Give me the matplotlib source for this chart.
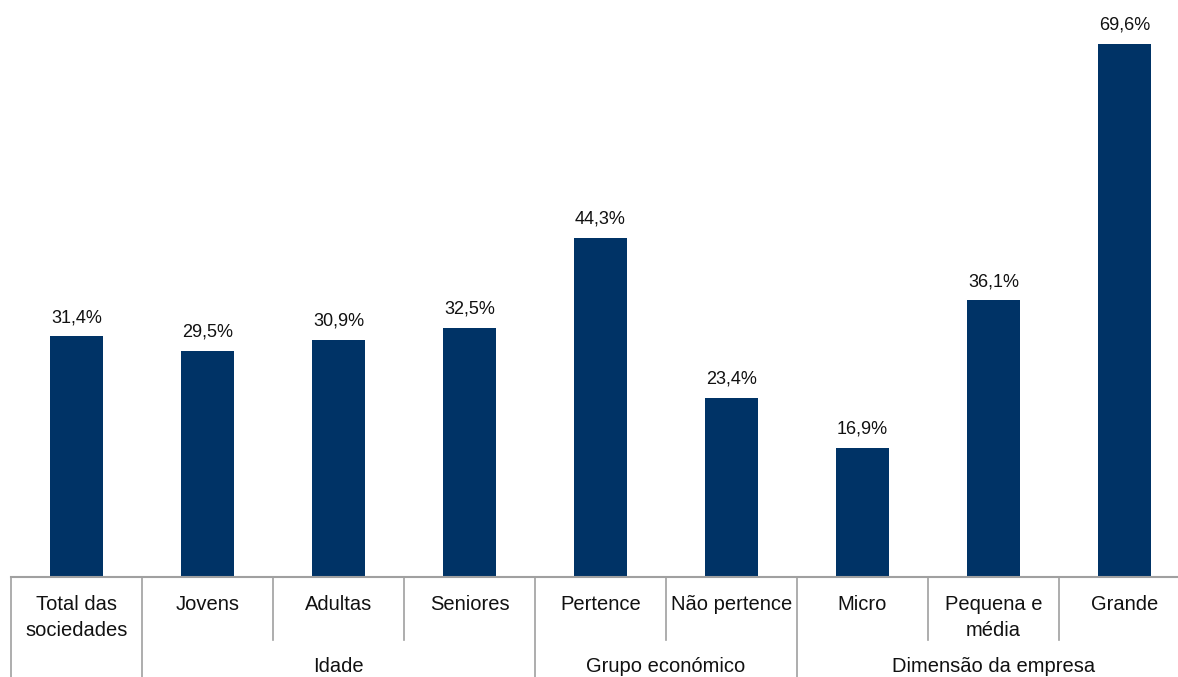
import matplotlib.pyplot as plt

plt.rcParams['font.family'] = ['Liberation Sans', 'DejaVu Sans']

# dados
categorias = ['Total das\nsociedades', 'Jovens', 'Adultas', 'Seniores',
              'Pertence', 'Não pertence', 'Micro', 'Pequena e\nmédia', 'Grande']
valores = [31.4, 29.5, 30.9, 32.5, 44.3, 23.4, 16.9, 36.1, 69.6]
grupos = ['Idade', 'Grupo económico', 'Dimensão da empresa']
grupo_inicio = [1, 4, 6]
grupo_fim = [3, 5, 8]

W, H = 1178, 677
fig = plt.figure(figsize=(W / 100, H / 100), dpi=100)

# eixo: base em y=577 px, 9 categorias de ~131 px a partir de x=11
base_px = 577
px_por_pct = 7.66
ymax = 75
ax_h_px = ymax * px_por_pct
ax = fig.add_axes([11 / W, (H - base_px) / H, 9 * 131 / W, ax_h_px / H])
ax.set_xlim(-0.5, 8.5)
ax.set_ylim(0, ymax)

x = range(len(categorias))
ax.bar(x, valores, width=0.41, color='#003366', zorder=2)

for xi, v in zip(x, valores):
    ax.annotate(f'{v:.1f}%'.replace('.', ','), (xi, v), xytext=(0, 7.5),
                textcoords='offset points', ha='center', va='bottom',
                fontsize=13, color='#111111')

for s in ax.spines.values():
    s.set_visible(False)
ax.set_xticks([])
ax.set_yticks([])


def ypx(p):
    # posição em pixels (a partir do topo) -> fração do eixo
    return (base_px - p) / ax_h_px


tr = ax.get_xaxis_transform()
cinza = '#a0a0a0'
ax.plot([-0.5, 8.6], [0, 0], color=cinza, lw=1.5, transform=tr, clip_on=False)

# separadores
fronteiras_longas = [-0.5, 0.5, 3.5, 5.5]
fronteiras_curtas = [1.5, 2.5, 4.5, 6.5, 7.5]
for b in fronteiras_longas:
    ax.plot([b, b], [0, ypx(H + 5)], color=cinza, lw=1.2, transform=tr, clip_on=False)
for b in fronteiras_curtas:
    ax.plot([b, b], [0, ypx(640)], color=cinza, lw=1.2, transform=tr, clip_on=False)

for xi, c in zip(x, categorias):
    ax.text(xi, ypx(595), c, transform=tr, ha='center', va='top',
            fontsize=14.5, linespacing=1.45, color='#111111')

for g, a, b in zip(grupos, grupo_inicio, grupo_fim):
    ax.text((a + b) / 2, ypx(667), g, transform=tr, ha='center', va='center',
            fontsize=14.5, color='#111111')

fig.savefig('out.png', dpi=100)
